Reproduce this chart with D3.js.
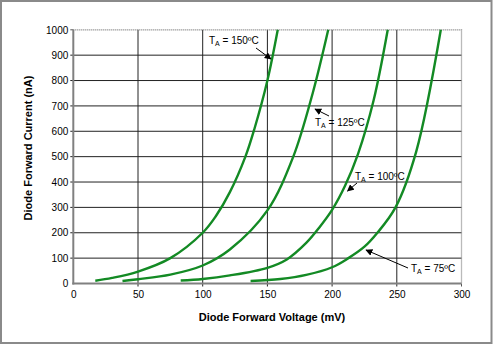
<!DOCTYPE html>
<html><head><meta charset="utf-8">
<script src="https://cdn.jsdelivr.net/npm/d3@7"></script>
<style>
html,body{margin:0;padding:0;background:#fff;}
svg{display:block;font-family:"Liberation Sans",Arial,sans-serif;}
</style></head>
<body>
<script>
// ---- data ----
const xTicks = [0, 50, 100, 150, 200, 250, 300];
const yTicks = [0, 100, 200, 300, 400, 500, 600, 700, 800, 900, 1000];
// voltage (mV) / current (nA)
const v150 = [17, 30, 50, 75, 100, 110, 121, 133, 140, 150, 158];
const i150 = [11, 22, 47, 100, 200, 264, 360, 500, 610, 800, 1000];
const v125 = [38, 50, 75, 100, 121, 150, 170, 185, 197];
const i125 = [10, 17, 35, 71, 134, 288, 500, 750, 1000];
const v100 = [83, 100, 121, 150, 165, 180, 190, 200, 210, 220, 232, 243];
const i100 = [12, 18, 32, 62, 95, 160, 220, 290, 385, 510, 720, 1000];
const v75 = [137, 160, 180, 200, 212, 225, 235, 249, 265, 284];
const i75 = [10, 18, 34, 64, 98, 145, 200, 300, 520, 1000];
const labelText = ["150", "125", "100", "75"];

const W = 493, H = 344;
const svg = d3.select("body").append("svg").attr("width", W).attr("height", H);

// outer frame
svg.append("rect").attr("x", 1).attr("y", 1).attr("width", W - 2.5).attr("height", H - 2)
  .attr("fill", "#fff").attr("stroke", "#8a8a8a").attr("stroke-width", 2);

const x = d3.scaleLinear().domain([0, 300]).range([73.3, 461.5]);
const y = d3.scaleLinear().domain([0, 1000]).range([283.5, 29.8]);

const g = svg.append("g");

// grid lines
g.selectAll(".vg").data(xTicks.slice(1, -1)).enter().append("line")
  .attr("x1", d => x(d)).attr("x2", d => x(d)).attr("y1", y(0) + 3).attr("y2", y(1000))
  .attr("stroke", "#222").attr("stroke-width", 1);
g.selectAll(".hg").data(yTicks.slice(1, -1)).enter().append("line")
  .attr("x1", x(0) - 3).attr("x2", x(300)).attr("y1", d => y(d)).attr("y2", d => y(d))
  .attr("stroke", "#222").attr("stroke-width", 1);

// dotted top/right border
g.append("path").attr("d", `M${x(0)},${y(1000)}H${x(300)}V${y(0)}`)
  .attr("fill", "none").attr("stroke", "#777").attr("stroke-width", 1.3).attr("stroke-dasharray", "1,1");
g.append("line").attr("x1", x(0) - 3).attr("x2", x(0)).attr("y1", y(1000)).attr("y2", y(1000)).attr("stroke", "#555");
g.append("line").attr("x1", x(300)).attr("x2", x(300)).attr("y1", y(0)).attr("y2", y(0) + 3).attr("stroke", "#555");

// axes (labels via d3 axes)
const xAxis = d3.axisBottom(x).tickValues(xTicks).tickSize(0).tickPadding(7).tickFormat(d3.format("d"));
const yAxis = d3.axisLeft(y).tickValues(yTicks).tickSize(0).tickPadding(5).tickFormat(d3.format("d"));
const gx = svg.append("g").attr("transform", `translate(0,${y(0)})`).call(xAxis);
const gy = svg.append("g").attr("transform", `translate(${x(0)},0)`).call(yAxis);
[gx, gy].forEach(a => {
  a.select(".domain").remove();
  a.selectAll("text").attr("font-family", "Liberation Sans, Arial, sans-serif")
    .attr("font-size", 10).attr("fill", "#000");
});
gx.selectAll("text").attr("dy", "0.71em");

// axis lines (gray, thick)
svg.append("line").attr("x1", x(0)).attr("x2", x(0)).attr("y1", y(1000)).attr("y2", y(0) + 1)
  .attr("stroke", "#808080").attr("stroke-width", 2);
svg.append("line").attr("x1", x(0) - 1).attr("x2", x(300)).attr("y1", y(0)).attr("y2", y(0))
  .attr("stroke", "#808080").attr("stroke-width", 2);

// curves
const series = [
  {v: v150, i: i150}, {v: v125, i: i125}, {v: v100, i: i100}, {v: v75, i: i75}
];
const line = d3.line().x(d => x(d[0])).y(d => y(d[1])).curve(d3.curveCatmullRom.alpha(0.5));
svg.append("g").selectAll("path").data(series).enter().append("path")
  .attr("d", s => line(s.v.map((v, k) => [v, s.i[k]])))
  .attr("fill", "none").attr("stroke", "#138a24").attr("stroke-width", 2.4);

// annotations
const labelPos = [
  {tx: 209, ty: 44, a: [256, 48, 271, 59]},
  {tx: 315, ty: 126, a: [329, 116, 315, 109]},
  {tx: 355, ty: 180, a: [357, 183, 347.5, 191]},
  {tx: 411, ty: 272, a: [408, 268, 366, 250]}
];
svg.append("defs").append("marker").attr("id", "ah").attr("viewBox", "0 0 10 10")
  .attr("refX", 9).attr("refY", 5).attr("markerWidth", 7).attr("markerHeight", 7)
  .attr("orient", "auto").attr("markerUnits", "userSpaceOnUse")
  .append("path").attr("d", "M0,0L10,5L0,10z").attr("fill", "#000");

labelPos.forEach((p, k) => {
  const t = svg.append("text").attr("x", p.tx).attr("y", p.ty)
    .attr("font-size", 10).attr("fill", "#000");
  t.append("tspan").text("T");
  t.append("tspan").attr("font-size", 7).attr("dy", 2).text("A");
  t.append("tspan").attr("dy", -2).text(" = " + labelText[k] + "ºC");
  svg.append("line").attr("x1", p.a[0]).attr("y1", p.a[1]).attr("x2", p.a[2]).attr("y2", p.a[3])
    .attr("stroke", "#000").attr("stroke-width", 1).attr("marker-end", "url(#ah)");
});

// axis titles
svg.append("text").attr("x", 272).attr("y", 321).attr("text-anchor", "middle")
  .attr("font-size", 11).attr("font-weight", "bold").text("Diode Forward Voltage (mV)");
svg.append("text").attr("transform", "translate(32,148) rotate(-90)").attr("text-anchor", "middle")
  .attr("font-size", 11).attr("font-weight", "bold").text("Diode Forward Current (nA)");
</script>
</body></html>
